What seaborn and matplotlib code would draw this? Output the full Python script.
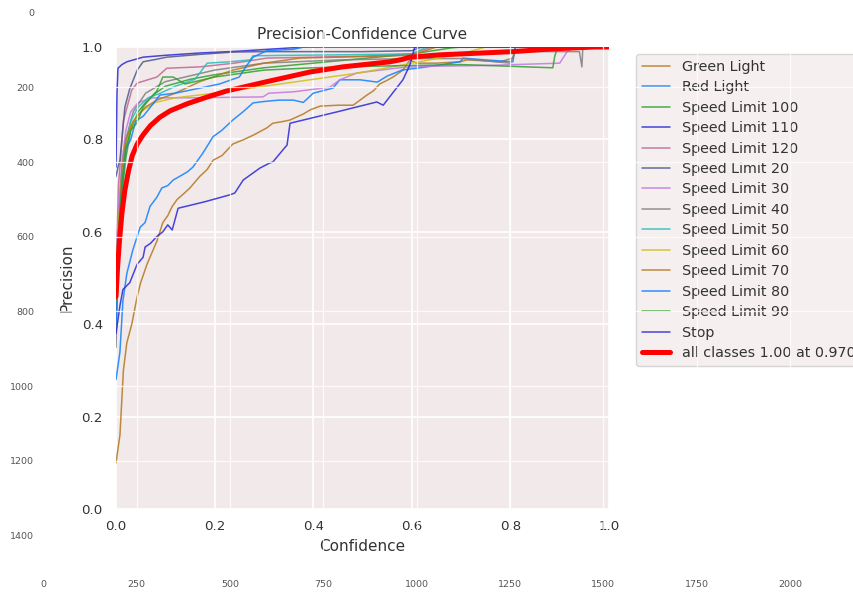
import matplotlib
matplotlib.use("Agg")
import matplotlib.pyplot as plt
import seaborn as sns
import pandas as pd

# ---------------- data ----------------
class_names = ["Green Light", "Red Light", "Speed Limit 100", "Speed Limit 110",
               "Speed Limit 120", "Speed Limit 20", "Speed Limit 30", "Speed Limit 40",
               "Speed Limit 50", "Speed Limit 60", "Speed Limit 70", "Speed Limit 80",
               "Speed Limit 90", "Stop"]

green_light_conf = [0, .008, .015, .022, .032, .043, .05, .063, .075, .083, .095, .105, .114, .124,
                    .14, .15, .17, .185, .197, .215, .237, .26, .28, .306, .318, .335, .353, .38,
                    .394, .414, .45, .481, .495, .509, .522, .535, .55, .562, .582, .596, .61, .65,
                    .698, .712, .75, .779, .805, .81, 1.0]
green_light_prec = [.10, .16, .30, .36, .40, .46, .49, .53, .56, .58, .62, .635, .655, .67,
                    .685, .695, .72, .735, .755, .765, .79, .80, .81, .825, .835, .838, .842, .855,
                    .864, .872, .874, .874, .885, .896, .905, .92, .928, .935, .95, .972, .965, .965,
                    .968, .972, .97, .968, .976, 1.0, 1.0]

red_light_conf = [0, .008, .014, .022, .034, .049, .059, .069, .083, .093, .105, .116, .134, .145,
                  .156, .176, .197, .215, .237, .258, .278, .30, .33, .36, .38, .40, .44, .454,
                  .495, .53, .55, .58, .617, .65, .698, .704, .75, .805, .81, 1.0]
red_light_prec = [.28, .34, .45, .51, .56, .61, .62, .655, .675, .695, .70, .712, .723, .73,
                  .74, .77, .806, .82, .842, .86, .879, .882, .885, .885, .88, .90, .911, .929,
                  .929, .924, .937, .95, .955, .96, .968, .976, .972, .968, 1.0, 1.0]

sl100_conf = [0, .005, .012, .02, .03, .045, .06, .08, .10, .15, .20, .30, .45, .60, .68, .70, 1.0]
sl100_prec = [.40, .55, .68, .76, .82, .86, .88, .90, .915, .93, .94, .955, .97, .985, .998, 1.0, 1.0]

sl110_conf = [0, .002, .004, .012, .022, .055, .10, .17, .25, .353, .39, 1.0]
sl110_prec = [.74, .90, .954, .962, .968, .978, .982, .987, .991, .998, 1.0, 1.0]

sl120_conf = [0, .005, .015, .025, .032, .043, .083, .103, .17, .24, .306, .40, .50, .60, .64, 1.0]
sl120_prec = [.50, .70, .84, .88, .907, .922, .935, .954, .957, .965, .976, .978, .98, .985, 1.0, 1.0]

sl20_conf = [0, .004, .008, .018, .028, .043, .055, .08, .103, .17, .237, .30, .40, .50, .60, .62, 1.0]
sl20_prec = [.72, .74, .755, .87, .91, .95, .968, .973, .978, .984, .989, .99, .99, .99, .992, 1.0, 1.0]

sl30_conf = [0, .005, .012, .02, .03, .045, .075, .15, .298, .31, .36, .434, .454, .489, .576,
             .62, .75, .90, .915, .93, 1.0]
sl30_prec = [.50, .65, .75, .82, .86, .88, .89, .89, .892, .90, .903, .913, .929, .944, .955,
             .958, .96, .965, .99, 1.0, 1.0]

sl40_conf = [0, .005, .012, .02, .035, .06, .10, .20, .30, .45, .60, .70, .80, .81, .94, .945, .947, 1.0]
sl40_prec = [.35, .55, .70, .80, .86, .90, .925, .95, .965, .972, .975, .975, .965, .99, .99, .957, 1.0, 1.0]

sl50_conf = [0, .005, .012, .02, .03, .045, .065, .09, .12, .16, .185, .23, .272, .278, .35,
             .45, .60, .63, 1.0]
sl50_prec = [.45, .60, .72, .78, .84, .87, .89, .90, .915, .93, .965, .968, .972, .981, .982,
             .983, .985, 1.0, 1.0]

sl60_conf = [0, .005, .012, .02, .03, .05, .08, .12, .20, .30, .40, .50, .55, .60, .65, .70, .75, 1.0]
sl60_prec = [.50, .62, .72, .78, .83, .86, .88, .89, .90, .915, .93, .945, .955, .965, .975, .985, 1.0, 1.0]

sl70_conf = [0, .005, .012, .02, .035, .06, .083, .12, .17, .237, .30, .373, .45, .60, .65, 1.0]
sl70_prec = [.40, .60, .74, .80, .84, .87, .885, .90, .925, .95, .965, .976, .978, .982, 1.0, 1.0]

sl80_conf = [0, .005, .012, .02, .03, .04, .055, .07, .089, .12, .17, .21, .25, .265, .278,
             .306, .36, .38, 1.0]
sl80_prec = [.40, .58, .70, .78, .80, .84, .85, .87, .896, .90, .911, .92, .935, .96, .978,
             .992, .995, 1.0, 1.0]

sl90_conf = [0, .005, .012, .02, .03, .042, .055, .07, .083, .095, .116, .14, .20, .30, .40,
             .50, .60, .70, .886, .89, .896, 1.0]
sl90_prec = [.45, .60, .70, .78, .82, .835, .87, .89, .905, .935, .935, .92, .935, .95, .955,
             .958, .96, .962, .955, .98, 1.0, 1.0]

stop_conf = [0, .008, .014, .028, .043, .055, .059, .07, .083, .095, .105, .114, .126, .18, .231,
             .241, .258, .292, .312, .318, .347, .353, .45, .529, .542, .582, .596, .606, 1.0]
stop_prec = [.38, .44, .475, .49, .53, .545, .567, .575, .59, .60, .615, .604, .651, .665, .68,
             .684, .712, .738, .749, .751, .788, .835, .86, .881, .874, .929, .961, 1.0, 1.0]

all_conf = [0, .003, .007, .012, .018, .025, .033, .043, .055, .07, .089, .11, .144, .18, .225,
            .306, .394, .46, .556, .58, .596, .657, .805, .886, .97, 1.0]
all_prec = [.46, .52, .58, .64, .69, .73, .765, .79, .81, .83, .848, .862, .877, .89, .905,
            .925, .946, .957, .968, .973, .978, .983, .99, .996, 1.0, 1.0]
all_label = "all classes 1.00 at 0.970"

class_conf = [green_light_conf, red_light_conf, sl100_conf, sl110_conf, sl120_conf, sl20_conf,
              sl30_conf, sl40_conf, sl50_conf, sl60_conf, sl70_conf, sl80_conf, sl90_conf, stop_conf]
class_prec = [green_light_prec, red_light_prec, sl100_prec, sl110_prec, sl120_prec, sl20_prec,
              sl30_prec, sl40_prec, sl50_prec, sl60_prec, sl70_prec, sl80_prec, sl90_prec, stop_prec]

conf_ticks = [0.0, 0.2, 0.4, 0.6, 0.8, 1.0]
prec_ticks = [0.0, 0.2, 0.4, 0.6, 0.8, 1.0]
outer_xticks = [0, 250, 500, 750, 1000, 1250, 1500, 1750, 2000]
outer_yticks = [0, 200, 400, 600, 800, 1000, 1200, 1400]

# colours (channel-swapped tab10 as in the picture)
palette = ["#b4771f", "#0e7fff", "#2ca02c", "#2827d6", "#bd6794", "#4b568c", "#c277e3",
           "#7f7f7f", "#22bdbc", "#cfbe17"]

# ---------------- figure ----------------
sns.set_theme(style="darkgrid")
plt.rcParams["font.family"] = ["DejaVu Sans"]

W, H = 854, 592
fig = plt.figure(figsize=(W / 100, H / 100), dpi=100)
fig.patch.set_facecolor("white")

# inner chart
ax = fig.add_axes([116 / W, 1 - 509 / H, 493 / W, 462 / H])
ax.set_facecolor("#f2eaea")
ax.grid(True, color="white", linewidth=1.3)
for s in ax.spines.values():
    s.set_visible(False)

for i, name in enumerate(class_names):
    df = pd.DataFrame({"Confidence": class_conf[i], "Precision": class_prec[i]})
    sns.lineplot(data=df, x="Confidence", y="Precision", ax=ax, sort=False, estimator=None,
                 color=palette[i % 10], linewidth=1.1, alpha=0.85, label=name)
df_all = pd.DataFrame({"Confidence": all_conf, "Precision": all_prec})
sns.lineplot(data=df_all, x="Confidence", y="Precision", ax=ax, sort=False, estimator=None,
             color="#ff0000", linewidth=3.6, label=all_label)

ax.set_xlim(0, 1)
ax.set_ylim(0, 1)
ax.set_xticks(conf_ticks)
ax.set_yticks(prec_ticks)
ax.set_xticklabels([f"{t:.1f}" for t in conf_ticks])
ax.set_yticklabels([f"{t:.1f}" for t in prec_ticks])
ax.tick_params(axis="x", length=0, pad=8, labelsize=9.6, labelcolor="#333333")
ax.tick_params(axis="y", length=0, pad=9.5, labelsize=9.6, labelcolor="#333333")
ax.set_xlabel("Confidence", fontsize=11, color="#333333")
ax.set_ylabel("Precision", fontsize=11, color="#333333")
ax.xaxis.set_label_coords(0.5, -0.066)
ax.yaxis.set_label_coords(-0.085, 0.5)
ax.set_title("Precision-Confidence Curve", fontsize=11, color="#333333", pad=6)

leg = ax.legend(bbox_to_anchor=(1.04, 1), loc="upper left", fontsize=10.3,
                labelspacing=0.45, handlelength=2.0, frameon=True, fancybox=True)
leg.get_frame().set_facecolor("#f2eaea")
leg.get_frame().set_alpha(0.75)
leg.get_frame().set_edgecolor("#cccccc")
for t in leg.get_texts():
    t.set_color("#333333")

# outer pixel-coordinate axes drawn on top (transparent)
x0, y0, scale = 43.3, 12.7, 0.3733
bottom_px = 572
outer = fig.add_axes([x0 / W, 1 - bottom_px / H, (W - x0) / W, (bottom_px - y0) / H])
outer.set_zorder(5)
outer.patch.set_visible(False)
outer.set_xlim(0, (W - x0) / scale)
outer.set_ylim((bottom_px - y0) / scale, 0)
outer.set_xticks(outer_xticks)
outer.set_yticks(outer_yticks)
outer.grid(True, color="white", linewidth=0.9, alpha=0.8)
for s in outer.spines.values():
    s.set_visible(False)
outer.tick_params(axis="both", length=0, labelsize=6.8, labelcolor="#555555")
outer.tick_params(axis="x", pad=5.5)
outer.tick_params(axis="y", pad=6.5)

fig.savefig("out.png", dpi=100)
